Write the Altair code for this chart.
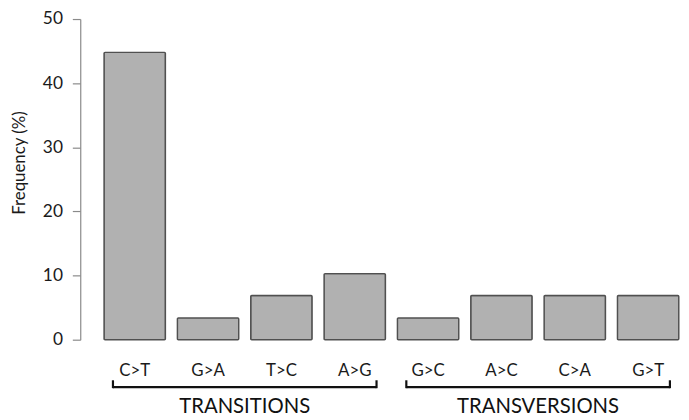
import altair as alt
import pandas as pd

categories = ["C>T", "G>A", "T>C", "A>G", "G>C", "A>C", "C>A", "G>T"]
frequencies = [44.8, 3.4, 6.9, 10.3, 3.4, 6.9, 6.9, 6.9]

group_names = ["TRANSITIONS", "TRANSVERSIONS"]
group_first = ["C>T", "G>C"]
group_last = ["A>G", "G>T"]
group_label_at = ["G>A", "A>C"]

FONT = "Lato"
W, H = 607, 324

bars_df = pd.DataFrame({"cat": categories, "freq": frequencies})
groups_df = pd.DataFrame({"name": group_names, "first": group_first,
                          "last": group_last, "mid": group_label_at})

xscale = alt.Scale(domain=categories, paddingInner=0.163, paddingOuter=0.177, align=0.916)

bars = alt.Chart(bars_df).mark_bar(
    color="#b1b1b1", stroke="#505050", strokeWidth=1.4, cornerRadius=1
).encode(
    x=alt.X("cat:N", scale=xscale, sort=categories,
            axis=alt.Axis(title=None, labelAngle=0, ticks=False, tickSize=0, domain=False,
                          labelPadding=23, labelFontSize=17, labelFont=FONT,
                          labelColor="#1a1a1a")),
    y=alt.Y("freq:Q", scale=alt.Scale(domain=[0, 50], nice=False),
            axis=alt.Axis(title="Frequency (%)", values=[0, 10, 20, 30, 40, 50],
                          grid=False, tickSize=8, tickColor="#8a8a8a", domainColor="#8a8a8a",
                          tickWidth=1.2, domainWidth=1.2,
                          labelPadding=10, labelFontSize=17.5, labelFont=FONT,
                          labelColor="#1a1a1a", titleFont=FONT, titleFontSize=17,
                          titleFontWeight="normal", titleColor="#1a1a1a",
                          titleX=-61, titleY=145, titleAngle=270,
                          titleAlign="center", titleBaseline="middle")),
)

base = alt.Chart(groups_df)

hline = base.mark_rule(color="#111111", strokeWidth=2.2, xOffset=-22, x2Offset=22).encode(
    x=alt.X("first:N", scale=xscale, sort=categories),
    x2="last:N",
    y=alt.value(H + 48),
)
hook_l = base.mark_rule(color="#111111", strokeWidth=2.2, xOffset=-22).encode(
    x=alt.X("first:N", scale=xscale, sort=categories),
    y=alt.value(H + 41), y2=alt.value(H + 49),
)
hook_r = base.mark_rule(color="#111111", strokeWidth=2.2, xOffset=22).encode(
    x=alt.X("last:N", scale=xscale, sort=categories),
    y=alt.value(H + 41), y2=alt.value(H + 49),
)
labels = base.mark_text(font=FONT, fontSize=20.5, color="#111111", dx=37,
                        baseline="middle", align="center").encode(
    x=alt.X("mid:N", scale=xscale, sort=categories),
    y=alt.value(H + 68),
    text="name:N",
)

chart = alt.layer(bars, hline, hook_l, hook_r, labels).properties(
    width=W, height=H,
    autosize=alt.AutoSizeParams(type="none"),
    padding={"left": 73, "top": 9, "right": 0, "bottom": 80},
).configure_view(stroke=None)

chart.save("out.html", embed_options={"renderer": "svg", "actions": False})
